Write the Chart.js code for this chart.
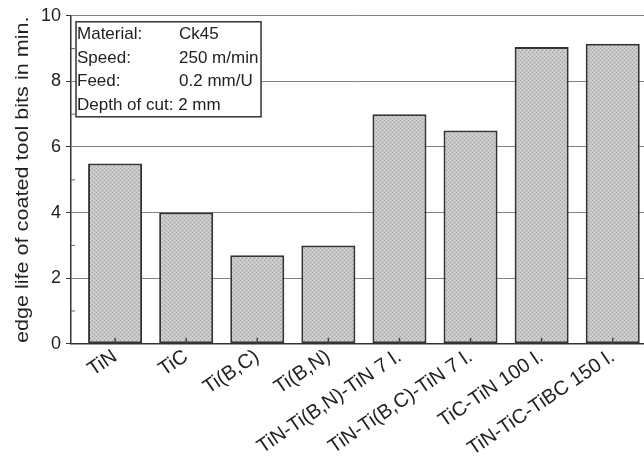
<!DOCTYPE html>
<html>
<head>
<meta charset="utf-8">
<script src="https://cdn.jsdelivr.net/npm/chart.js@4"></script>
<style>
  html, body { margin: 0; padding: 0; background: #fff; }
  #wrap { width: 644px; height: 470px; }
</style>
</head>
<body>
<div id="wrap"><canvas id="edgeChart" width="644" height="470"></canvas></div>
<script>
// Beschichtungen und Standzeiten (min)
const coatings = ["TiN", "TiC", "Ti(B,C)", "Ti(B,N)", "TiN-Ti(B,N)-TiN 7 l.",
                  "TiN-Ti(B,C)-TiN 7 l.", "TiC-TiN 100 l.", "TiN-TiC-TiBC 150 l."];
const edgeLife = [5.5, 4.0, 2.7, 3.0, 7.0, 6.5, 9.05, 9.15];
const yTicks = [0, 2, 4, 6, 8, 10];
const yTitle = "edge life of coated tool bits in min.";
const conditionNames = ["Material:", "Speed:", "Feed:", "Depth of cut: 2 mm"];
const conditionValues = ["Ck45", "250 m/min", "0.2 mm/U", ""];

const FONT = "'Liberation Sans', Arial, sans-serif";

// Punktraster wie im Original
function stipple() {
    const c = document.createElement("canvas");
    c.width = 4; c.height = 4;
    const g = c.getContext("2d");
    g.fillStyle = "#c6c6c6";
    g.fillRect(0, 0, 4, 4);
    g.fillStyle = "#a4a4a4";
    g.fillRect(0, 0, 1, 1);
    g.fillRect(2, 2, 1, 1);
    g.fillStyle = "#d8d8d8";
    g.fillRect(2, 0, 1, 1);
    g.fillRect(0, 2, 1, 1);
    return g.createPattern(c, "repeat");
}

// Kasten mit Schnittbedingungen
const infoBox = {
    id: "infoBox",
    afterDraw(chart) {
        const ctx = chart.ctx;
        const a = chart.chartArea;
        const x0 = a.left + 5, y0 = a.top + 6;
        ctx.save();
        ctx.fillStyle = "#fff";
        ctx.fillRect(x0, y0, 185, 95);
        ctx.strokeStyle = "#333";
        ctx.lineWidth = 1.5;
        ctx.strokeRect(x0, y0, 185, 95);
        ctx.fillStyle = "#222";
        ctx.font = "17px " + FONT;
        ctx.textBaseline = "middle";
        for (let i = 0; i < conditionNames.length; i++) {
            const y = y0 + 13 + i * 23.5;
            ctx.fillText(conditionNames[i], x0 + 1, y);
            if (conditionValues[i]) ctx.fillText(conditionValues[i], x0 + 103, y);
        }
        ctx.restore();
    }
};

// Achsentitel (im Original etwas gestreckt)
const yAxisTitle = {
    id: "yAxisTitle",
    afterDraw(chart) {
        const ctx = chart.ctx;
        const a = chart.chartArea;
        ctx.save();
        ctx.translate(23, (a.top + a.bottom) / 2);
        ctx.rotate(-Math.PI / 2);
        ctx.scale(1.2, 1);
        ctx.fillStyle = "#222";
        ctx.font = "18px " + FONT;
        ctx.textAlign = "center";
        ctx.textBaseline = "middle";
        ctx.fillText(yTitle, 0, 0);
        ctx.restore();
    }
};

// kleine Striche: unten in den Balken und Zwischenstriche an der y-Achse
const innerTicks = {
    id: "innerTicks",
    afterDatasetsDraw(chart) {
        const ctx = chart.ctx;
        const xs = chart.scales.x, ys = chart.scales.y;
        const a = chart.chartArea;
        ctx.save();
        ctx.strokeStyle = "#444";
        ctx.lineWidth = 1.5;
        coatings.forEach((c, i) => {
            const x = xs.getPixelForValue(i);
            ctx.beginPath();
            ctx.moveTo(x, a.bottom);
            ctx.lineTo(x, a.bottom - 6);
            ctx.stroke();
        });
        ctx.lineWidth = 1;
        ctx.strokeStyle = "#666";
        for (let v = 1; v < 10; v += 2) {
            const y = ys.getPixelForValue(v);
            ctx.beginPath();
            ctx.moveTo(a.left, y);
            ctx.lineTo(a.left + 4, y);
            ctx.stroke();
        }
        ctx.restore();
    }
};

new Chart(document.getElementById("edgeChart"), {
    type: "bar",
    data: {
        datasets: [{
            data: edgeLife.map((v, i) => ({ x: i, y: v })),
            backgroundColor: stipple(),
            borderColor: "#333",
            borderWidth: 2,
            borderSkipped: false,
            barPercentage: 0.76,
            categoryPercentage: 1.0
        }]
    },
    options: {
        responsive: false,
        animation: false,
        layout: { padding: { top: 6, right: 0, bottom: 8, left: 36 } },
        plugins: { legend: { display: false }, tooltip: { enabled: false } },
        scales: {
            x: {
                type: "linear",
                min: -0.62,
                max: 7.44,
                offset: false,
                afterBuildTicks: (scale) => {
                    scale.ticks = coatings.map((c, i) => ({ value: i }));
                },
                grid: { display: false, drawTicks: false },
                border: { color: "#333", width: 1.5 },
                ticks: {
                    color: "#222",
                    font: { family: FONT, size: 20 },
                    minRotation: 34,
                    maxRotation: 34,
                    autoSkip: false,
                    padding: 1,
                    callback: (v) => coatings[v]
                }
            },
            y: {
                min: 0,
                max: 10,
                ticks: {
                    stepSize: 2,
                    color: "#222",
                    font: { family: FONT, size: 18 },
                    padding: 5
                },
                grid: {
                    color: (c) => (c.tick && c.tick.value > 0 ? "#808080" : "transparent"),
                    tickColor: "#333",
                    tickLength: 5,
                    lineWidth: 1
                },
                border: { color: "#333", width: 1.5 }
            }
        }
    },
    plugins: [innerTicks, infoBox, yAxisTitle]
});
</script>
</body>
</html>
